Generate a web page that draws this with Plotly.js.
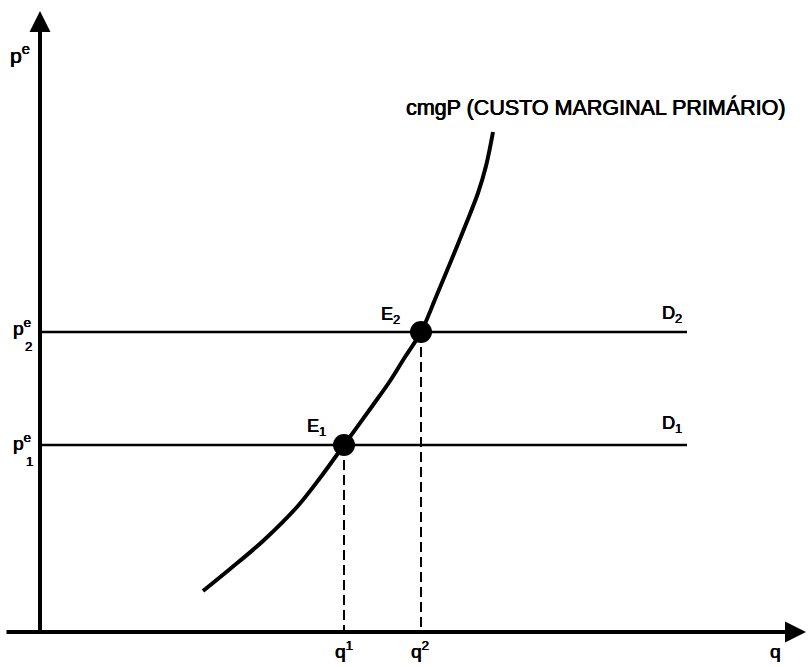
<!DOCTYPE html>
<html>
<head>
<meta charset="utf-8">
<script src="https://cdn.plot.ly/plotly-3.0.1.min.js"></script>
<style>
  html, body { margin: 0; padding: 0; background: #ffffff; }
  #chart { width: 808px; height: 667px; }
</style>
</head>
<body>
<div id="chart"></div>
<script>
// ---- data (q: quantity, p: price, arbitrary units) ----
var curveQ = [16.3, 19.0, 22.3, 25.7, 28.0, 30.4, 33.3, 35.0, 36.5, 38.1, 39.6, 41.1, 42.6, 43.8, 44.6, 45.3];
var curveP = [4.1, 6.3, 9.1, 12.5, 15.4, 18.7, 22.7, 25.1, 27.5, 30.0, 33.5, 37.1, 40.8, 43.9, 46.6, 50.0];
var eqQ = [30.4, 38.1];          // q1, q2
var eqP = [18.7, 30.0];          // p1, p2
var demandEnd = 64.7;            // right end of D1, D2
var eqNames = ['1', '2'];
var curveLabel = 'cmgP (CUSTO MARGINAL PRIMÁRIO)';
var axisMaxQ = 76.6, axisMinQ = -3.5, axisMaxP = 62.1;

var FONT = 'Liberation Sans, Arial, Helvetica, sans-serif';
var SHADOW = '0.4px 0 0 #000, -0.3px 0 0 #000';
var traces = [];

// demand lines
for (var i = 0; i < eqP.length; i++) {
  traces.push({x: [0, demandEnd], y: [eqP[i], eqP[i]], mode: 'lines',
    line: {color: '#000', width: 2.5}, hoverinfo: 'skip'});
}
// dashed drop lines
for (var i = 0; i < eqQ.length; i++) {
  traces.push({x: [eqQ[i], eqQ[i]], y: [eqP[i], 0], mode: 'lines',
    line: {color: '#000', width: 2, dash: '10px,5px'}, hoverinfo: 'skip'});
}
// marginal cost curve
traces.push({x: curveQ, y: curveP, mode: 'lines',
  line: {color: '#000', width: 4, shape: 'spline', smoothing: 1}, hoverinfo: 'skip'});
// equilibrium points
traces.push({x: eqQ, y: eqP, mode: 'markers',
  marker: {color: '#000', size: 22}, hoverinfo: 'skip'});

var ann = [];
function txt(x, y, t, size) {
  ann.push({x: x, y: y, xref: 'x', yref: 'y', text: t, showarrow: false,
    font: {family: FONT, size: size, color: '#000', shadow: SHADOW},
    xanchor: 'center', yanchor: 'middle'});
}
// axes as arrows
ann.push({x: axisMaxQ, y: 0, ax: axisMinQ, ay: 0, xref: 'x', yref: 'y', axref: 'x', ayref: 'y',
  text: '', showarrow: true, arrowhead: 2, arrowsize: 1.05, arrowwidth: 4, arrowcolor: '#000'});
ann.push({x: 0, y: axisMaxP, ax: 0, ay: -0.2, xref: 'x', yref: 'y', axref: 'x', ayref: 'y',
  text: '', showarrow: true, arrowhead: 2, arrowsize: 1.05, arrowwidth: 4, arrowcolor: '#000'});

// labels
txt(-2.0, 57.8, 'p<sup>e</sup>', 21);
txt(-1.8, eqP[1] + 0.5, 'p<sup>e</sup>', 19);
txt(-1.15, eqP[1] - 1.4, eqNames[1], 13);
txt(-1.8, eqP[0] + 0.3, 'p<sup>e</sup>', 19);
txt(-1.05, eqP[0] - 1.6, eqNames[0], 13);
txt(eqQ[0], -1.8, 'q<sup>' + eqNames[0] + '</sup>', 19);
txt(eqQ[1] - 0.1, -1.8, 'q<sup>' + eqNames[1] + '</sup>', 19);
txt(73.5, -1.9, 'q', 19);
txt(eqQ[1] - 3.1, eqP[1] + 1.7, 'E<sub>' + eqNames[1] + '</sub>', 18);
txt(eqQ[0] - 2.8, eqP[0] + 1.8, 'E<sub>' + eqNames[0] + '</sub>', 18);
txt(63.2, eqP[1] + 1.75, 'D<sub>' + eqNames[1] + '</sub>', 18);
txt(63.2, eqP[0] + 2.1, 'D<sub>' + eqNames[0] + '</sub>', 18);
txt(55.5, 52.5, curveLabel, 21.5);

var layout = {
  width: 808, height: 667,
  margin: {l: 0, r: 0, t: 0, b: 0},
  paper_bgcolor: '#fff', plot_bgcolor: '#fff',
  showlegend: false,
  xaxis: {range: [-4, 76.8], visible: false, fixedrange: true},
  yaxis: {range: [-3.5, 63.2], visible: false, fixedrange: true},
  annotations: ann
};
Plotly.newPlot('chart', traces, layout, {staticPlot: true, displayModeBar: false});
</script>
</body>
</html>
